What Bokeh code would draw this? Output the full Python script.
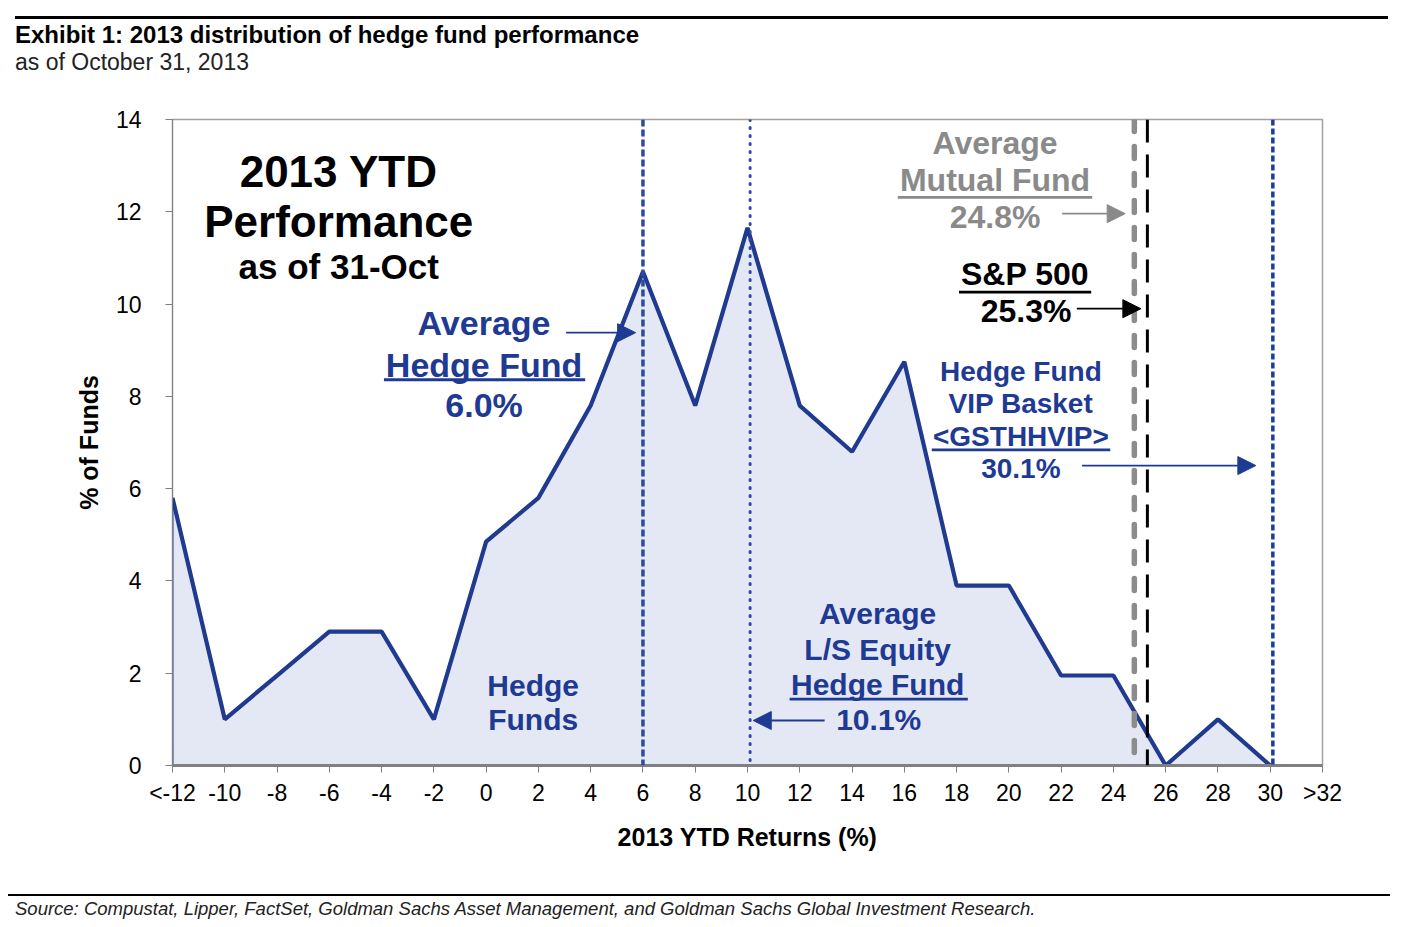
from bokeh.plotting import figure
from bokeh.models import (Range1d, FixedTicker, Span, Label, Arrow, NormalHead,
                          BoxAnnotation, ColumnDataSource, Div)
from bokeh.layouts import column
from bokeh.embed import file_html
from bokeh.resources import INLINE

# ---------------- data ----------------
returns = [-12, -10, -8, -6, -4, -2, 0, 2, 4, 6, 8, 10, 12, 14, 16, 18, 20, 22, 24, 26, 28, 30]
pct_funds = [5.8, 1.0, 1.95, 2.9, 2.9, 1.0, 4.85, 5.8, 7.8, 10.7, 7.8, 11.65, 7.8, 6.8,
             8.75, 3.9, 3.9, 1.95, 1.95, 0.0, 1.0, 0.0]
tick_positions = [-12, -10, -8, -6, -4, -2, 0, 2, 4, 6, 8, 10, 12, 14, 16, 18, 20, 22, 24,
                  26, 28, 30, 32]
tick_labels = ["<-12", "-10", "-8", "-6", "-4", "-2", "0", "2", "4", "6", "8", "10", "12",
               "14", "16", "18", "20", "22", "24", "26", "28", "30", ">32"]
y_ticks = [0, 2, 4, 6, 8, 10, 12, 14]
benchmarks = {"avg_hedge_fund": 6.0, "avg_ls_equity": 10.1, "avg_mutual_fund": 24.8,
              "sp500": 25.3, "vip_basket": 30.1}

TITLE = "Exhibit 1: 2013 distribution of hedge fund performance"
SUBTITLE = "as of October 31, 2013"
SOURCE = ("Source: Compustat, Lipper, FactSet, Goldman Sachs Asset Management, "
          "and Goldman Sachs Global Investment Research.")

FONT = "Liberation Sans"
BLUE = "#1f3a8f"
BLUE_TXT = "#1f3a93"
GRAY_TXT = "#8a8a8a"
W = 1396

# ---------------- header / footer ----------------
header = Div(width=W, height=78, margin=0, text=(
    '<div style="position:relative;width:1396px;height:78px;">'
    '<div style="position:absolute;left:15px;top:16px;width:1373px;height:3px;background:#000;"></div>'
    '<div style="position:absolute;left:15px;top:21px;white-space:nowrap;color:#000;'
    "font-family:'Liberation Sans';font-weight:bold;font-size:24px;line-height:28px;\">"
    + TITLE + '</div>'
    '<div style="position:absolute;left:15px;top:49px;white-space:nowrap;color:#222;'
    "font-family:'Liberation Sans';font-size:23px;line-height:26px;\">"
    + SUBTITLE + '</div></div>'))

footer = Div(width=W, height=48, margin=0, text=(
    '<div style="position:relative;width:1396px;height:48px;">'
    '<div style="position:absolute;left:8px;top:24px;width:1382px;height:2px;background:#000;"></div>'
    '<div style="position:absolute;left:15px;top:28px;white-space:nowrap;color:#222;'
    "font-family:'Liberation Sans';font-style:italic;font-size:18.5px;line-height:22px;\">"
    + SOURCE + '</div></div>'))

# ---------------- chart ----------------
p = figure(width=W, height=792, output_backend="svg", toolbar_location=None,
           x_range=Range1d(-12, 32), y_range=Range1d(0, 14),
           min_border_left=172, min_border_right=74, min_border_top=41,
           min_border_bottom=105, margin=0)
p.grid.visible = False
p.outline_line_color = "#a0a0a0"
p.outline_line_width = 1.5
p.background_fill_color = "white"
p.border_fill_color = "white"

p.xaxis.ticker = FixedTicker(ticks=tick_positions)
p.xaxis.major_label_overrides = {t: l for t, l in zip(tick_positions, tick_labels)}
p.yaxis.ticker = FixedTicker(ticks=y_ticks)
for ax in (p.xaxis, p.yaxis):
    ax.axis_line_color = "#808080"
    ax.major_tick_line_color = "#808080"
    ax.major_tick_out = 7
    ax.major_tick_in = 0
    ax.minor_tick_out = 0
    ax.minor_tick_in = 0
    ax.major_label_text_font = FONT
    ax.major_label_text_font_size = "23px"
    ax.major_label_text_color = "black"
    ax.axis_label_text_font = FONT
    ax.axis_label_text_font_style = "bold"
    ax.axis_label_text_font_size = "25px"
    ax.axis_label_text_color = "black"
p.xaxis.axis_line_width = 3
p.xaxis.major_label_standoff = 7
p.yaxis.major_label_standoff = 24
p.xaxis.axis_label = "2013 YTD Returns (%)"
p.yaxis.axis_label = "% of Funds"
p.xaxis.axis_label_standoff = 14
p.yaxis.axis_label_standoff = 10

src = ColumnDataSource(dict(x=returns, y=pct_funds))
p.varea(x="x", y1=0, y2="y", source=src, fill_color="#e4e8f4")
p.line(x=[returns[0], returns[0]], y=[0, pct_funds[0]], line_color=BLUE, line_width=2)
p.line(x=[returns[0], returns[-1]], y=[0, 0], line_color=BLUE, line_width=2)
p.line(x="x", y="y", source=src, line_color=BLUE, line_width=4.2)

p.add_layout(Span(location=benchmarks["avg_hedge_fund"], dimension="height",
                  line_color="#2b4aa0", line_width=3.5, line_dash="7 3"))
p.add_layout(Span(location=benchmarks["avg_ls_equity"], dimension="height",
                  line_color="#2b4aa0", line_width=3, line_dash="1 7", line_cap="round"))
p.add_layout(Span(location=benchmarks["avg_mutual_fund"], dimension="height",
                  line_color="#8c8c8c", line_width=5.5, line_dash="12 15", line_cap="round"))
p.add_layout(Span(location=benchmarks["sp500"], dimension="height",
                  line_color="black", line_width=3, line_dash="23 12"))
p.add_layout(Span(location=benchmarks["vip_basket"], dimension="height",
                  line_color="#1a3f9a", line_width=3.5, line_dash="6 3"))


def txt(x, y, text, size, color, align="center", style="bold"):
    p.add_layout(Label(x=x, y=y, text=text, text_font=FONT, text_font_size=size,
                       text_font_style=style, text_color=color, text_align=align,
                       text_baseline="middle"))


def uline(x0, x1, y, color):
    p.add_layout(BoxAnnotation(left=x0, right=x1, bottom=y - 0.03, top=y + 0.03,
                               fill_color=color, fill_alpha=1, line_alpha=0))


def arrow(x0, x1, y, color, size=18):
    p.add_layout(Arrow(x_start=x0, x_end=x1, y_start=y, y_end=y, line_color=color,
                       line_width=1.8,
                       end=NormalHead(size=size, fill_color=color, line_color=color)))


txt(-5.64, 12.87, "2013 YTD", "44px", "black")
txt(-5.64, 11.79, "Performance", "44px", "black")
txt(-5.64, 10.81, "as of 31-Oct", "35px", "black")

txt(-0.08, 9.58, "Average", "34px", BLUE_TXT)
txt(-0.08, 8.69, "Hedge Fund", "34px", BLUE_TXT)
uline(-3.91, 3.79, 8.36, BLUE_TXT)
txt(-0.08, 7.82, "6.0%", "34px", BLUE_TXT)
arrow(3.06, 5.72, 9.38, BLUE_TXT)

txt(19.47, 13.48, "Average", "32px", GRAY_TXT)
txt(19.47, 12.68, "Mutual Fund", "32px", GRAY_TXT)
uline(15.75, 23.19, 12.31, GRAY_TXT)
txt(19.47, 11.88, "24.8%", "32px", GRAY_TXT)
arrow(22.04, 24.45, 11.96, GRAY_TXT)

txt(20.62, 10.66, "S&P 500", "32px", "black")
uline(18.09, 23.15, 10.26, "black")
txt(20.66, 9.84, "25.3%", "32px", "black")
arrow(22.6, 25.05, 9.90, "black")

txt(20.46, 8.54, "Hedge Fund", "28px", BLUE_TXT)
txt(20.46, 7.85, "VIP Basket", "28px", BLUE_TXT)
txt(20.46, 7.13, "<GSTHHVIP>", "28px", BLUE_TXT)
uline(17.05, 23.88, 6.84, BLUE_TXT)
txt(20.46, 6.44, "30.1%", "28px", BLUE_TXT)
arrow(22.80, 29.45, 6.50, BLUE_TXT)

txt(1.80, 1.73, "Hedge", "30px", BLUE_TXT)
txt(1.80, 1.00, "Funds", "30px", BLUE_TXT)

txt(14.98, 3.29, "Average", "30px", BLUE_TXT)
txt(14.98, 2.51, "L/S Equity", "30px", BLUE_TXT)
txt(14.98, 1.76, "Hedge Fund", "30px", BLUE_TXT)
uline(11.61, 18.43, 1.44, BLUE_TXT)
txt(15.02, 1.00, "10.1%", "30px", BLUE_TXT)
arrow(12.95, 10.22, 0.975, BLUE_TXT)

layout = column(header, p, footer, spacing=0, margin=0)
open("out.html", "w").write(file_html(layout, INLINE))
